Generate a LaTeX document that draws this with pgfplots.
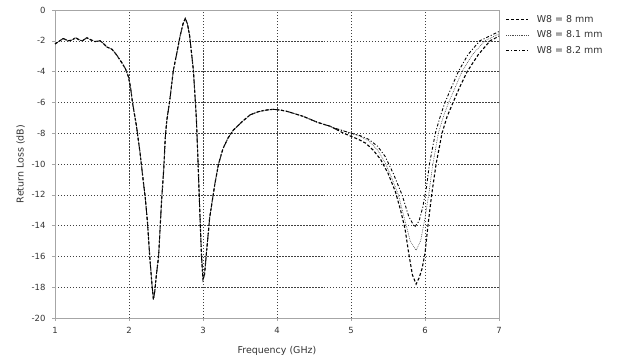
\documentclass[border=0pt]{standalone}
\usepackage{pgfplots}
\pgfplotsset{compat=1.18}
\usepackage{pgfplotstable}
\usepackage{fontspec}
\setmainfont{DejaVu Sans}

\pgfplotstableread{
x y
1.00 -2.2
1.05 -2.05
1.11 -1.85
1.18 -2.0
1.23 -1.95
1.28 -1.8
1.33 -1.95
1.37 -2.0
1.43 -1.8
1.49 -1.95
1.54 -2.05
1.61 -2.0
1.66 -2.2
1.70 -2.4
1.77 -2.55
1.83 -2.9
1.90 -3.4
1.95 -3.8
1.99 -4.3
2.02 -5.0
2.05 -6.1
2.10 -7.5
2.15 -9.3
2.19 -11.0
2.22 -12.2
2.25 -13.8
2.28 -16.0
2.31 -17.8
2.33 -18.8
2.35 -18.2
2.37 -17.2
2.40 -16.0
2.44 -12.4
2.47 -10.3
2.49 -8.3
2.51 -7.2
2.55 -5.9
2.60 -3.9
2.65 -2.7
2.69 -1.7
2.73 -0.9
2.76 -0.55
2.79 -0.9
2.82 -1.7
2.87 -3.9
2.91 -7.0
2.93 -9.5
2.96 -13.5
2.98 -16.0
3.00 -17.5
3.02 -17.2
3.05 -15.6
3.09 -13.5
3.16 -11.3
3.21 -10.0
3.27 -9.0
3.34 -8.3
3.41 -7.8
3.54 -7.2
3.64 -6.8
3.75 -6.6
3.85 -6.5
3.95 -6.45
4.05 -6.5
4.15 -6.6
4.25 -6.75
4.35 -6.9
4.45 -7.1
4.55 -7.3
4.65 -7.45
4.72 -7.55
4.80 -7.75
}\common

\pgfplotstableread{
x y
4.80 -7.75
4.90 -8.0
5.00 -8.2
5.10 -8.4
5.20 -8.65
5.30 -9.1
5.40 -9.7
5.50 -10.6
5.60 -11.8
5.67 -13.0
5.73 -14.2
5.78 -15.8
5.83 -17.2
5.88 -17.8
5.92 -17.4
5.96 -16.8
6.00 -15.8
6.04 -14.0
6.09 -12.0
6.15 -10.0
6.23 -8.0
6.30 -6.9
6.38 -6.0
6.47 -5.0
6.57 -4.0
6.72 -2.9
6.88 -2.0
7.00 -1.7
}\seriesA

\pgfplotstableread{
x y
4.80 -7.7
4.90 -7.85
5.00 -8.0
5.12 -8.2
5.24 -8.5
5.36 -9.1
5.46 -9.9
5.55 -10.9
5.64 -12.0
5.72 -13.5
5.80 -15.0
5.88 -15.6
5.94 -15.0
6.00 -13.5
6.05 -12.0
6.10 -10.2
6.18 -8.0
6.25 -6.9
6.32 -6.0
6.41 -5.0
6.50 -4.0
6.64 -2.9
6.81 -2.0
7.00 -1.55
}\seriesB

\pgfplotstableread{
x y
4.80 -7.7
4.90 -7.85
5.00 -8.0
5.12 -8.15
5.24 -8.4
5.36 -8.85
5.46 -9.5
5.57 -10.6
5.69 -12.0
5.78 -13.4
5.86 -14.1
5.92 -13.7
5.97 -12.8
6.02 -11.5
6.06 -10.0
6.14 -8.0
6.20 -7.0
6.27 -6.0
6.36 -5.0
6.45 -4.0
6.58 -2.9
6.74 -2.0
7.00 -1.4
}\seriesC

\begin{document}
\begin{tikzpicture}
\begin{axis}[
  name=ax,
  scale only axis,
  width=444bp, height=308bp,
  xmin=1, xmax=7, ymin=-20, ymax=0,
  xtick={1,2,...,7},
  ytick={-20,-18,...,0},
  /pgf/number format/assume math mode=true,
  tick label style={font=\fontsize{8.5}{10}\selectfont, text=black!80},
  label style={font=\fontsize{9.5}{11}\selectfont, text=black!80},
  xticklabel style={yshift=-3bp},
  yticklabel style={xshift=-3bp},
  xlabel={Frequency (GHz)},
  ylabel={Return Loss (dB)},
  xlabel style={yshift=-6bp},
  ylabel style={yshift=0bp},
  axis line style={gray!70, line width=0.8pt},
  tick style={gray!70, line width=0.6pt},
  tick align=outside,
  major tick length=3pt,
  xtick pos=bottom, ytick pos=left,
  grid=major,
  major grid style={black!75, line width=0.4pt, dash pattern=on 1.5pt off 1.5pt},
  legend style={draw=none, fill=none, at={(1.008,0.997)}, anchor=north west,
    font=\fontsize{9.5}{11}\selectfont, text=black!80, row sep=3.2pt},
  legend cell align=left,
  legend image code/.code={\draw[#1] (0pt,0pt) -- (22bp,0pt); \path (28bp,0pt);},
]
\addplot[black, line width=1.1pt, dash pattern=on 3pt off 2pt] table {\common};
\addplot[black!70, line width=0.6pt, dash pattern=on 0.8pt off 1pt] table {\common};
\addplot[black, line width=0.9pt, dash pattern=on 3pt off 2pt on 1pt off 2pt] table {\common};
\addplot[black, line width=1.1pt, dash pattern=on 3pt off 2pt, forget plot] table {\seriesA};
\addplot[black!70, line width=0.6pt, dash pattern=on 0.8pt off 1pt, forget plot] table {\seriesB};
\addplot[black, line width=0.9pt, dash pattern=on 3pt off 2pt on 1pt off 2pt, forget plot] table {\seriesC};
\legend{W8 = 8 mm, W8 = 8.1 mm, W8 = 8.2 mm}
\end{axis}
\pgfresetboundingbox
\path[use as bounding box] ([xshift=-55bp,yshift=-40bp]ax.south west) rectangle ([xshift=120bp,yshift=10bp]ax.north east);
\end{tikzpicture}
\end{document}
